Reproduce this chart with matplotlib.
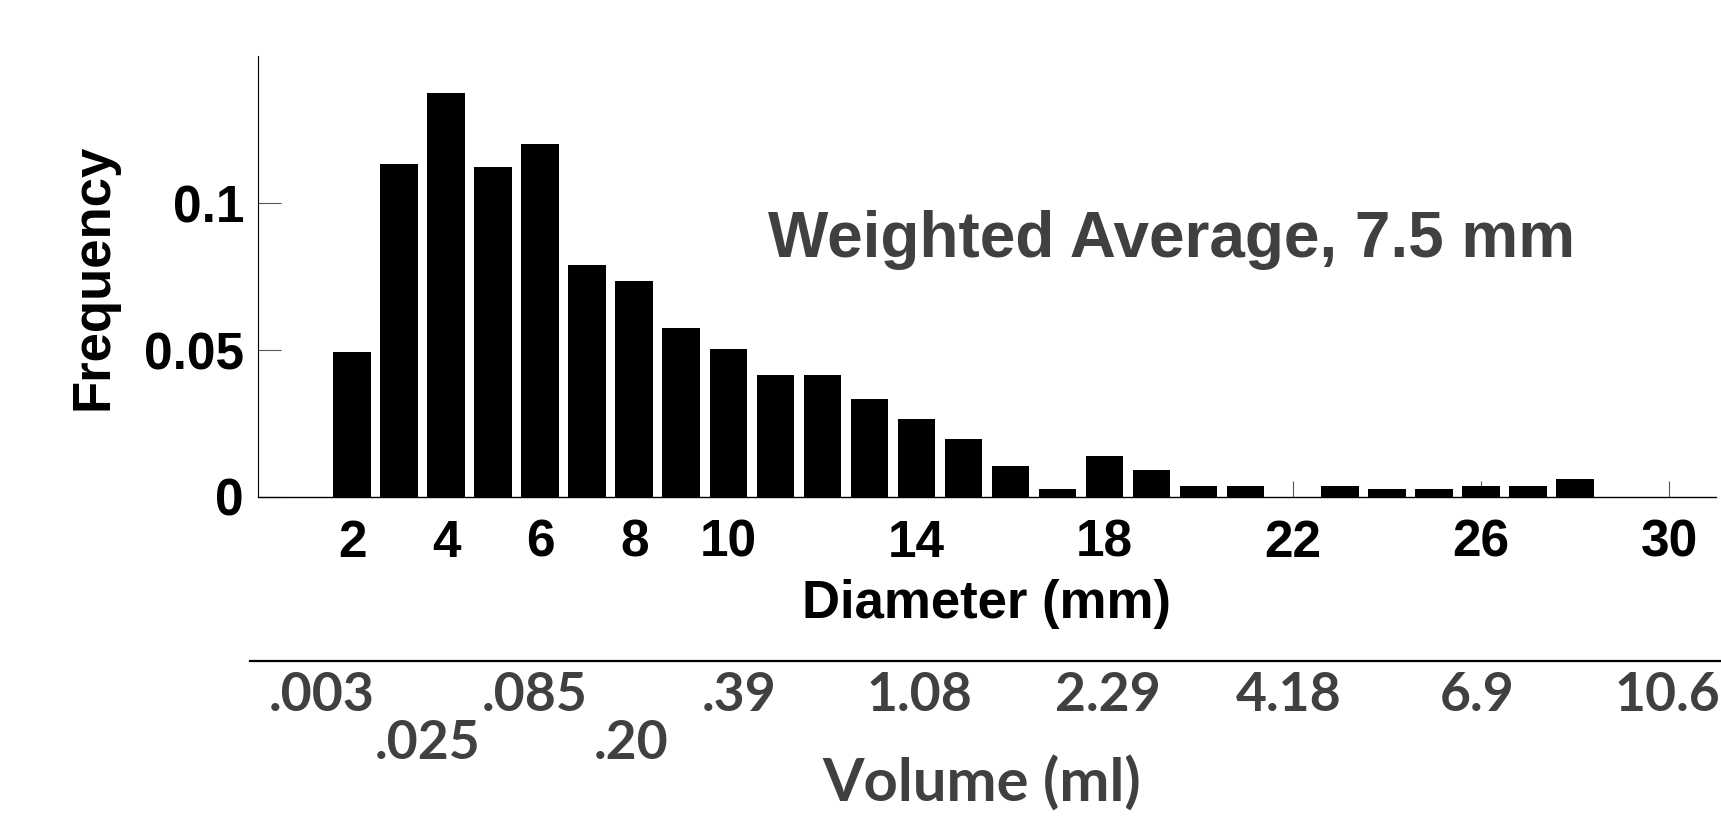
"""Drop size histogram with a matching volume scale underneath."""

import numpy as np
import matplotlib.pyplot as plt

# Histogram of drop diameters (mm)
diameter = np.arange(2, 29)
frequency = [0.0494, 0.1133, 0.1373, 0.1121, 0.1201, 0.0789, 0.0734, 0.0574,
             0.0503, 0.0414, 0.0414, 0.0332, 0.0265, 0.0197, 0.0104, 0.0026,
             0.0140, 0.0093, 0.0037, 0.0037, 0.0, 0.0037, 0.0026, 0.0026,
             0.0037, 0.0037, 0.0060]
diam_ticks = [2, 4, 6, 8, 10, 14, 18, 22, 26, 30]
freq_ticks = [0, 0.05, 0.1]
freq_tick_labels = ["0", "0.05", "0.1"]

# Volume scale (ml), placed against the diameter axis
vol_upper_at = [1.37, 5.90, 10.23, 14.08, 18.07, 21.91, 25.92, 29.98]
vol_upper = [".003", ".085", ".39", "1.08", "2.29", "4.18", "6.9", "10.6"]
vol_lower_at = [3.62, 7.95]
vol_lower = [".025", ".20"]

W, H = 1721, 818
GREY = "#404040"


def main():
    fig = plt.figure(figsize=(W / 100, H / 100), dpi=100)
    ax = fig.add_axes([258 / W, 1 - 497 / H, 1458 / W, 441 / H])
    ax.set_axisbelow(True)

    ax.bar(diameter, frequency, width=0.8, color="black", linewidth=0)
    ax.set_xlim(0, 31)
    ax.set_ylim(0, 0.15)
    ax.set_xticks(diam_ticks)
    ax.set_yticks(freq_ticks, freq_tick_labels)
    for lab in ax.get_xticklabels() + ax.get_yticklabels():
        lab.set_fontfamily("Liberation Sans")
        lab.set_fontweight("bold")
        lab.set_fontsize(37)
    ax.tick_params(axis="x", direction="in", length=11.5, width=0.8,
                   color="#555555", pad=15.5)
    ax.tick_params(axis="y", direction="in", length=16.5, width=0.8,
                   color="#555555", pad=10)
    ax.spines["top"].set_visible(False)
    ax.spines["right"].set_visible(False)
    ax.spines["left"].set_linewidth(0.8)
    ax.spines["bottom"].set_linewidth(1.0)

    fig.text(94 / W, 1 - 277 / H, "Frequency", rotation=90, ha="center",
             va="center", fontsize=38, fontweight="bold",
             family="Liberation Sans")
    fig.text(987 / W, 1 - 604 / H, "Diameter (mm)", ha="center", va="center",
             fontsize=38, fontweight="bold", family="Liberation Sans")
    ax.text(10.85, 0.0817, "Weighted Average, 7.5 mm", ha="left",
            va="baseline", fontsize=46, fontweight="bold", color=GREY,
            family="Liberation Sans")

    # second scale: volume
    vax = fig.add_axes([250 / W, 1 - 661 / H, 1471 / W, 0.01])
    vax.patch.set_visible(False)
    for side in ("top", "left", "right"):
        vax.spines[side].set_visible(False)
    vax.spines["bottom"].set_linewidth(1.6)
    vax.set_yticks([])
    vax.set_xlim(-0.16, 31.11)
    vax.set_xticks(vol_upper_at, vol_upper)
    vax.set_xticks(vol_lower_at, vol_lower, minor=True)
    vax.tick_params(axis="x", which="major", length=0, pad=7)
    vax.tick_params(axis="x", which="minor", length=0, pad=42)
    for lab in vax.get_xticklabels(which="both"):
        lab.set_fontfamily("Lato")
        lab.set_fontweight("bold")
        lab.set_fontsize(38.5)
        lab.set_color(GREY)

    fig.text(982 / W, 1 - 784 / H, "Volume (ml)", ha="center", va="center",
             fontsize=43, fontweight="bold", color=GREY, family="Lato")

    fig.savefig("out.png", dpi=100)


if __name__ == "__main__":
    main()
